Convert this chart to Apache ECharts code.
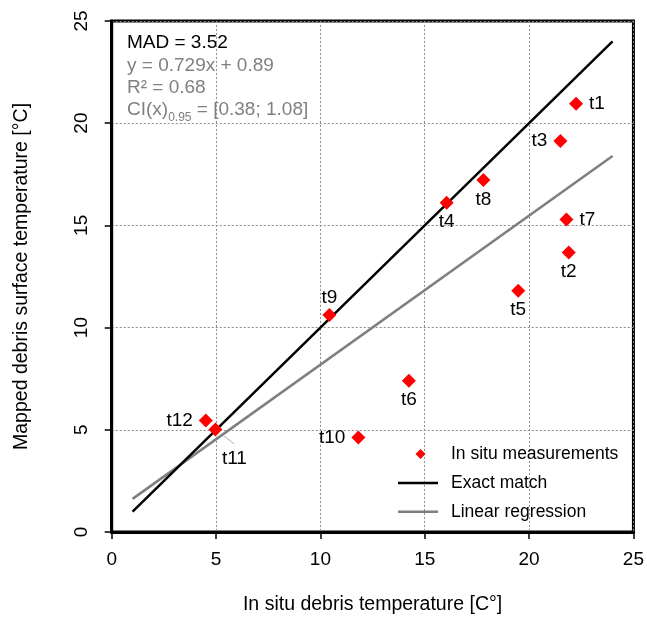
<!DOCTYPE html>
<html>
<head>
<meta charset="utf-8">
<script src="https://cdn.jsdelivr.net/npm/echarts@6/dist/echarts.min.js"></script>
<style>
html,body{margin:0;padding:0;background:#fff;}
#chart{width:647px;height:620px;}
</style>
</head>
<body>
<div id="chart"></div>
<script>
// ---- data ----
const pointLabels = ['t1','t2','t3','t4','t5','t6','t7','t8','t9','t10','t11','t12'];
const inSituTemp  = [22.25, 21.9, 21.5, 16.05, 19.48, 14.24, 21.79, 17.81, 10.43, 11.82, 4.97, 4.51];
const mappedTemp  = [20.95, 13.67, 19.12, 16.11, 11.8, 7.40, 15.28, 17.22, 10.61, 4.62, 5.01, 5.45];
const labelSide   = ['right','bottom','left','bottom','bottom','bottom','right','bottom','top','left','t11','left'];
const exactMatch  = [[1, 1], [24, 24]];
const regression  = [[1, 1.62], [24, 18.39]];
const t11Leader   = [[5.31, 4.75], [5.87, 4.31]];
const statsText   = ['MAD = 3.52', 'y = 0.729x + 0.89', 'R\u00b2 = 0.68'];

const FONT = '"Liberation Sans", Arial, Helvetica, sans-serif';

const scatterData = pointLabels.map((n, i) => {
  const side = labelSide[i];
  const item = { value: [inSituTemp[i], mappedTemp[i]], name: n };
  if (side === 't11') {
    item.label = { position: 'inside', offset: [19, 29] };
  } else {
    item.label = { position: side, distance: (side === 'top' ? 1 : (side === 'bottom' ? 3 : 6)) };
  }
  return item;
});

const chart = echarts.init(document.getElementById('chart'), null, { renderer: 'canvas' });

const axisCommon = {
  type: 'value',
  min: 0, max: 25, interval: 5,
  nameLocation: 'middle',
  nameTextStyle: { fontFamily: FONT, fontSize: 19.5, color: '#000' },
  axisLine: { show: true, lineStyle: { color: '#000', width: 3 } },
  axisTick: { show: true, inside: false, length: 7, lineStyle: { color: '#000', width: 1.5 } },
  axisLabel: { fontFamily: FONT, fontSize: 19, color: '#000' },
  splitLine: { show: true, lineStyle: { color: '#8c8c8c', width: 1, type: [2, 2] } }
};

const LINE_ICON = 'path://M0,0 L40,0 L40,2.5 L0,2.5 Z';
const DIAMOND_ICON = 'path://M0,5 L0,5 M17.5,5 L22.5,0 L27.5,5 L22.5,10 Z M40,5 L40,5';

const option = {
  animation: false,
  backgroundColor: '#fff',
  grid: {
    left: 111.7, right: 10.3, top: 20.9, bottom: 86.7,
    show: true, borderColor: '#000', borderWidth: 3, backgroundColor: 'transparent'
  },
  xAxis: Object.assign({}, axisCommon, {
    name: 'In situ debris temperature [C\u00b0]',
    nameGap: 63,
    axisLabel: Object.assign({}, axisCommon.axisLabel, { margin: 18 })
  }),
  yAxis: Object.assign({}, axisCommon, {
    name: 'Mapped debris surface temperature [\u00b0C]',
    nameGap: 80,
    axisLabel: Object.assign({}, axisCommon.axisLabel, { rotate: 90, margin: 20 })
  }),
  legend: {
    orient: 'vertical',
    left: 393, top: 440,
    itemWidth: 40, itemHeight: 10, itemGap: 10.9,
    symbolKeepAspect: true,
    textStyle: { fontFamily: FONT, fontSize: 17.5, color: '#000', padding: [0, 0, 0, 8] },
    data: [
      { name: 'In situ measurements', icon: DIAMOND_ICON },
      { name: 'Exact match', icon: LINE_ICON },
      { name: 'Linear regression', icon: LINE_ICON }
    ]
  },
  series: [
    {
      name: 'Linear regression', type: 'line', data: regression,
      symbol: 'none', lineStyle: { color: '#7f7f7f', width: 2.5 }, itemStyle: { color: '#7f7f7f' }, z: 2
    },
    {
      name: 'Exact match', type: 'line', data: exactMatch,
      symbol: 'none', lineStyle: { color: '#000', width: 2.5 }, itemStyle: { color: '#000' }, z: 3
    },
    {
      name: 't11 leader', type: 'line', data: t11Leader,
      symbol: 'none', lineStyle: { color: '#b0b0b0', width: 1 }, silent: true, z: 4
    },
    {
      name: 'In situ measurements', type: 'scatter', data: scatterData,
      symbol: 'diamond', symbolSize: 14, symbolKeepAspect: true,
      itemStyle: { color: '#ff0000', opacity: 1 },
      label: {
        show: true, formatter: '{b}',
        fontFamily: FONT, fontSize: 19, color: '#000'
      },
      z: 5
    }
  ],
  graphic: [
    { type: 'text', left: 127, top: 33, style: { text: statsText[0], font: '19px ' + FONT, fill: '#000' } },
    { type: 'text', left: 127, top: 56, style: { text: statsText[1], font: '19px ' + FONT, fill: '#808080' } },
    { type: 'text', left: 127, top: 78, style: { text: statsText[2], font: '19px ' + FONT, fill: '#808080' } },
    { type: 'text', left: 127, top: 100, style: {
        text: '{a|CI(x)}{s|0.95}{a| = [0.38; 1.08]}',
        rich: {
          a: { fontFamily: FONT, fontSize: 19, fill: '#808080', color: '#808080', verticalAlign: 'top', lineHeight: 22 },
          s: { fontFamily: FONT, fontSize: 12, fill: '#808080', color: '#808080', verticalAlign: 'top', padding: [12, 0, 0, 0], lineHeight: 22 }
        }
      } }
  ]
};
chart.setOption(option);
</script>
</body>
</html>
